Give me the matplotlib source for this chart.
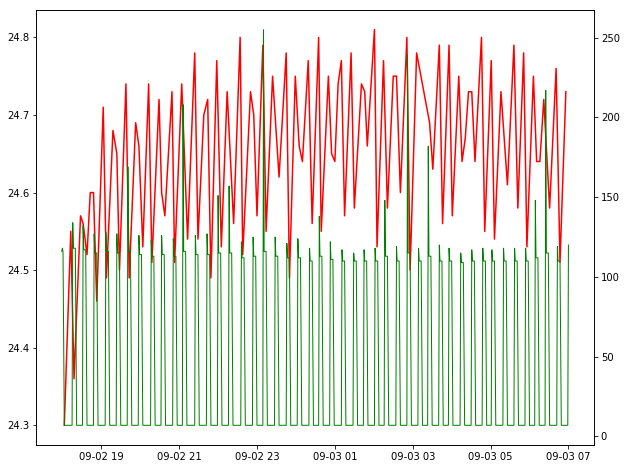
import pandas as pd
import matplotlib
matplotlib.use("Agg")
import matplotlib.pyplot as plt
import matplotlib.dates as mdates

YEAR = "2019-"

# temperature (left axis, red)
temp_times = [
    "09-02 18:03", "09-02 18:13", "09-02 18:18", "09-02 18:28", "09-02 18:32", "09-02 18:38",
    "09-02 18:43", "09-02 18:48", "09-02 18:53", "09-02 19:03", "09-02 19:08", "09-02 19:18",
    "09-02 19:24", "09-02 19:28", "09-02 19:38", "09-02 19:43", "09-02 19:53", "09-02 19:58",
    "09-02 20:04", "09-02 20:13", "09-02 20:18", "09-02 20:29", "09-02 20:33", "09-02 20:38",
    "09-02 20:49", "09-02 20:53", "09-02 21:04", "09-02 21:13", "09-02 21:24", "09-02 21:29",
    "09-02 21:38", "09-02 21:44", "09-02 21:49", "09-02 21:58", "09-02 22:05", "09-02 22:14",
    "09-02 22:24", "09-02 22:34", "09-02 22:38", "09-02 22:50", "09-02 22:55", "09-02 23:00",
    "09-02 23:09", "09-02 23:14", "09-02 23:24", "09-02 23:34", "09-02 23:45", "09-02 23:50",
    "09-02 23:59", "09-03 00:05", "09-03 00:10", "09-03 00:19", "09-03 00:25", "09-03 00:35",
    "09-03 00:39", "09-03 00:50", "09-03 00:55", "09-03 01:00", "09-03 01:05", "09-03 01:10",
    "09-03 01:15", "09-03 01:25", "09-03 01:30", "09-03 01:41", "09-03 01:46", "09-03 01:50",
    "09-03 02:01", "09-03 02:05", "09-03 02:15", "09-03 02:21", "09-03 02:30", "09-03 02:35",
    "09-03 02:41", "09-03 02:51", "09-03 02:56", "09-03 03:06", "09-03 03:26", "09-03 03:31",
    "09-03 03:41", "09-03 03:46", "09-03 03:56", "09-03 04:01", "09-03 04:11", "09-03 04:16",
    "09-03 04:21", "09-03 04:26", "09-03 04:31", "09-03 04:36", "09-03 04:46", "09-03 04:51",
    "09-03 05:01", "09-03 05:06", "09-03 05:16", "09-03 05:26", "09-03 05:36", "09-03 05:42",
    "09-03 05:51", "09-03 05:56", "09-03 06:06", "09-03 06:11", "09-03 06:16", "09-03 06:22",
    "09-03 06:31", "09-03 06:41", "09-03 06:47", "09-03 06:56",
]
temp_vals = [
    24.30, 24.55, 24.36, 24.57, 24.56, 24.52,
    24.60, 24.60, 24.46, 24.71, 24.49, 24.68,
    24.65, 24.50, 24.74, 24.49, 24.69, 24.66,
    24.53, 24.74, 24.51, 24.72, 24.60, 24.57,
    24.73, 24.51, 24.74, 24.54, 24.78, 24.54,
    24.70, 24.72, 24.49, 24.77, 24.53, 24.73,
    24.56, 24.80, 24.52, 24.73, 24.70, 24.57,
    24.79, 24.55, 24.75, 24.62, 24.78, 24.49,
    24.75, 24.66, 24.64, 24.77, 24.56, 24.80,
    24.55, 24.75, 24.65, 24.64, 24.74, 24.77,
    24.57, 24.78, 24.58, 24.74, 24.73, 24.66,
    24.81, 24.53, 24.77, 24.58, 24.75, 24.75,
    24.60, 24.80, 24.50, 24.78, 24.69, 24.63,
    24.79, 24.56, 24.79, 24.57, 24.75, 24.64,
    24.67, 24.73, 24.73, 24.64, 24.80, 24.55,
    24.77, 24.54, 24.73, 24.61, 24.79, 24.58,
    24.78, 24.53, 24.75, 24.64, 24.64, 24.72,
    24.58, 24.76, 24.51, 24.73,
]

# power (right axis, green): one entry per compressor cycle
cycle_on = [
    "09-02 18:15", "09-02 18:31", "09-02 18:48", "09-02 19:06", "09-02 19:23", "09-02 19:40",
    "09-02 19:57", "09-02 20:16", "09-02 20:32", "09-02 20:50", "09-02 21:05", "09-02 21:24",
    "09-02 21:42", "09-02 21:59", "09-02 22:16", "09-02 22:35", "09-02 22:53", "09-02 23:09",
    "09-02 23:27", "09-02 23:45", "09-03 00:02", "09-03 00:20", "09-03 00:35", "09-03 00:52",
    "09-03 01:10", "09-03 01:28", "09-03 01:44", "09-03 02:01", "09-03 02:16", "09-03 02:34",
    "09-03 02:51", "09-03 03:08", "09-03 03:23", "09-03 03:40", "09-03 03:55", "09-03 04:13",
    "09-03 04:30", "09-03 04:47", "09-03 05:01", "09-03 05:19", "09-03 05:36", "09-03 05:53",
    "09-03 06:08", "09-03 06:24", "09-03 06:42",
]
cycle_off = [
    "09-02 18:20", "09-02 18:36", "09-02 18:53", "09-02 19:11", "09-02 19:28", "09-02 19:45",
    "09-02 20:02", "09-02 20:21", "09-02 20:37", "09-02 20:55", "09-02 21:10", "09-02 21:29",
    "09-02 21:47", "09-02 22:04", "09-02 22:21", "09-02 22:40", "09-02 22:58", "09-02 23:14",
    "09-02 23:32", "09-02 23:50", "09-03 00:07", "09-03 00:25", "09-03 00:40", "09-03 00:57",
    "09-03 01:15", "09-03 01:33", "09-03 01:49", "09-03 02:06", "09-03 02:21", "09-03 02:39",
    "09-03 02:56", "09-03 03:13", "09-03 03:28", "09-03 03:45", "09-03 04:00", "09-03 04:18",
    "09-03 04:35", "09-03 04:52", "09-03 05:06", "09-03 05:24", "09-03 05:41", "09-03 05:58",
    "09-03 06:13", "09-03 06:29", "09-03 06:47",
]
cycle_peak = [
    134, 132, 127, 128, 127, 169, 126, 123, 126, 124, 208, 126, 127, 151, 157,
    122, 125, 255, 125, 121, 124, 118, 138, 122, 117, 115, 117, 118, 148, 119,
    239, 118, 182, 120, 118, 115, 117, 118, 117, 118, 118, 118, 148, 217, 119,
]
cycle_hold = [
    118, 117, 115, 116, 115, 116, 114, 113, 114, 113, 116, 114, 114, 115, 115,
    112, 113, 116, 113, 112, 112, 110, 113, 111, 110, 110, 110, 110, 113, 110,
    115, 110, 113, 110, 110, 109, 110, 110, 110, 110, 110, 110, 112, 115, 110,
]
power_off_level = 7
start_times = ["09-02 17:59", "09-02 18:00", "09-02 18:01", "09-02 18:03"]
start_vals = [116, 118, 116, 7]
end_times = ["09-03 06:59", "09-03 07:00"]
end_vals = [7, 120]


def ts(s):
    return pd.Timestamp(YEAR + s)


one_min = pd.Timedelta(minutes=1)
p_t = [ts(s) for s in start_times]
p_v = list(start_vals)
for on, off, pk, hold in zip(cycle_on, cycle_off, cycle_peak, cycle_hold):
    t_on, t_off = ts(on), ts(off)
    p_t += [t_on, t_on + one_min, t_on + 2 * one_min, t_off, t_off + 2 * one_min]
    p_v += [power_off_level, pk, hold, hold, power_off_level]
p_t += [ts(s) for s in end_times]
p_v += end_vals

t_temp = [ts(s) for s in temp_times]

fig = plt.figure(figsize=(627 / 72, 469 / 72), dpi=72)
ax = fig.add_axes([0.058, 0.051, 0.889, 0.928])
ax.plot(t_temp, temp_vals, color="red", lw=1.5)
ax2 = ax.twinx()
ax2.plot(p_t, p_v, color="green", lw=1)

ax.xaxis.set_major_locator(mdates.HourLocator(byhour=range(1, 24, 2)))
ax.xaxis.set_major_formatter(mdates.DateFormatter("%m-%d %H"))
ax.set_yticks([24.3, 24.4, 24.5, 24.6, 24.7, 24.8])
ax2.set_yticks([0, 50, 100, 150, 200, 250])

fig.savefig("out.png", dpi=72)
